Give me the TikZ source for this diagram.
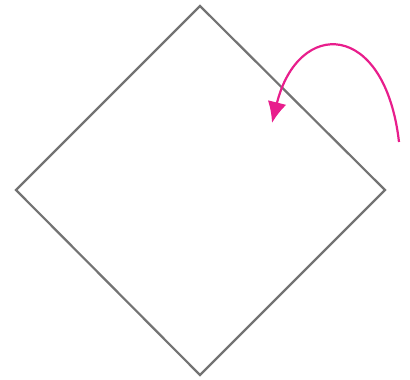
\documentclass[tikz,border=0pt]{standalone}
\usetikzlibrary{arrows.meta}

\definecolor{hotpink}{RGB}{232,30,140}

\begin{document}
\begin{tikzpicture}[
        x=1pt, y=-1pt,
        edge/.style={draw=gray!90!black, line width=2.2pt, line join=miter},
        swing/.style={draw=hotpink, line width=2.2pt, -{Latex[length=21pt, width=19pt]}}
    ]
        \useasboundingbox (0,0) rectangle (410,380);

        \coordinate (top) at (200,6);
        \coordinate (right) at (385,190);
        \coordinate (bottom) at (200,375);
        \coordinate (left) at (16,190);
        \draw[edge] (top) -- (right) -- (bottom) -- (left) -- cycle;

        \coordinate (start) at (399,142);
        \coordinate (tip) at (272,123);
        \draw[swing] (start) .. controls (385,20) and (298,18) .. (tip);
    \end{tikzpicture}
\end{document}
